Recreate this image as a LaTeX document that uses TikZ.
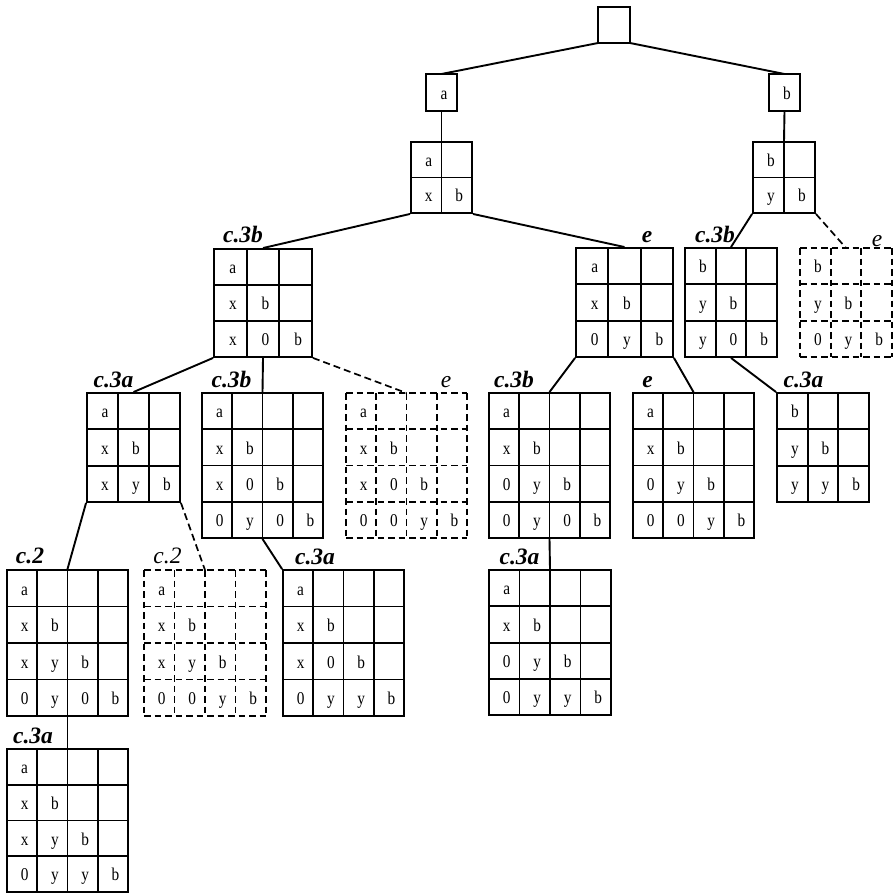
\documentclass[tikz,border=0pt]{standalone}
\usepackage{fontspec}
\setmainfont{Liberation Serif}
\newfontfamily\cellfam[FakeStretch=0.85]{Liberation Serif}
\usetikzlibrary{matrix,calc}
\tikzset{
  cellbox/.style={draw, line width=1.9pt, inner sep=0pt, outer sep=0pt,
    text height=13.5pt, text depth=0pt,
    font=\cellfam\fontsize{18}{18}\selectfont,
    execute at begin node={\hspace*{5pt}}},
  celltext/.style={inner sep=0pt, outer sep=0pt,
    text height=13.5pt, text depth=0pt,
    font=\cellfam\fontsize{18}{18}\selectfont,
    execute at begin node={\hspace*{5pt}}},
  cellgrid/.style 2 args={matrix of nodes, nodes in empty cells,
    inner sep=0pt, outer sep=0pt, column sep=-1.9pt, row sep=-1.9pt,
    anchor=north west,
    nodes={cellbox, minimum width=#1, minimum height=#2}},
  dgrid/.style 2 args={matrix of nodes, nodes in empty cells,
    inner sep=0pt, outer sep=0pt, column sep=0pt, row sep=0pt,
    anchor=north west,
    nodes={celltext, minimum width=#1, minimum height=#2}},
  dline/.style={line width=1.8pt, dash pattern=on 6.5pt off 4pt},
  conn/.style={line width=1.9pt},
  dconn/.style={line width=1.7pt, dash pattern=on 7pt off 4pt},
  lab/.style={font=\fontsize{23.5}{23.5}\selectfont\bfseries\itshape, inner sep=0pt, anchor=base},
  labl/.style={font=\fontsize{23.5}{23.5}\selectfont\itshape, inner sep=0pt, anchor=base},
}
\newcommand\dgridlines[3]{%
  \foreach \i in {0,...,#2}{\draw[dline] ($(#1.north west)!\i/#2!(#1.north east)$) -- ($(#1.south west)!\i/#2!(#1.south east)$);}
  \foreach \j in {0,...,#3}{\draw[dline] ($(#1.north west)!\j/#3!(#1.south west)$) -- ($(#1.north east)!\j/#3!(#1.south east)$);}
}
\begin{document}
\begin{tikzpicture}[x=1pt,y=-1pt]
\useasboundingbox (0,0) rectangle (893,893);

% level 0 and 1
\node[cellbox, minimum width=32pt, minimum height=36pt, anchor=north west] (root) at (598,7) {};
\node[cellbox, minimum width=31pt, minimum height=37pt, anchor=north west] (na) at (426,74) {a};
\node[cellbox, minimum width=31pt, minimum height=37pt, anchor=north west] (nb) at (769,74) {b};

% level 2
\matrix (g2a) [cellgrid={30.5pt}{35.5pt}] at (410.05,141.05) {
a & \\
x & b \\
};
\matrix (g2b) [cellgrid={31pt}{35.5pt}] at (752.05,141.05) {
b & \\
y & b \\
};

% level 3
\matrix (L) [cellgrid={32.67pt}{36pt}] at (213.05,248.05) {
a & & \\
x & b & \\
x & 0 & b \\
};
\matrix (E) [cellgrid={32.33pt}{36.33pt}] at (575.05,247.05) {
a & & \\
x & b & \\
0 & y & b \\
};
\matrix (R) [cellgrid={30.67pt}{36.33pt}] at (684.05,247.05) {
b & & \\
y & b & \\
y & 0 & b \\
};
\matrix (RD) [dgrid={30.67pt}{36.33pt}] at (800,248) {
b & & \\
y & b & \\
0 & y & b \\
};
\dgridlines{RD}{3}{3}

% level 4
\matrix (L3a) [cellgrid={31pt}{36.33pt}] at (86.05,392.05) {
a & & \\
x & b & \\
x & y & b \\
};
\matrix (L3b) [cellgrid={30.25pt}{36.25pt}] at (201.05,392.05) {
a & & & \\
x & b & & \\
x & 0 & b & \\
0 & y & 0 & b \\
};
\matrix (L3e) [dgrid={30.25pt}{36.25pt}] at (346,393) {
a & & & \\
x & b & & \\
x & 0 & b & \\
0 & 0 & y & b \\
};
\dgridlines{L3e}{4}{4}
\matrix (E3b) [cellgrid={30.25pt}{36.25pt}] at (488.05,392.05) {
a & & & \\
x & b & & \\
0 & y & b & \\
0 & y & 0 & b \\
};
\matrix (E3e) [cellgrid={30.25pt}{36.25pt}] at (632.05,392.05) {
a & & & \\
x & b & & \\
0 & y & b & \\
0 & 0 & y & b \\
};
\matrix (R3a) [cellgrid={30.67pt}{36.33pt}] at (776.05,392.05) {
b & & \\
y & b & \\
y & y & b \\
};

% level 5
\matrix (C2) [cellgrid={30.25pt}{36.5pt}] at (6.05,569.05) {
a & & & \\
x & b & & \\
x & y & b & \\
0 & y & 0 & b \\
};
\matrix (C2d) [dgrid={30.5pt}{36.5pt}] at (144,570) {
a & & & \\
x & b & & \\
x & y & b & \\
0 & 0 & y & b \\
};
\dgridlines{C2d}{4}{4}
\matrix (M3a) [cellgrid={30.25pt}{36.5pt}] at (282.05,569.05) {
a & & & \\
x & b & & \\
x & 0 & b & \\
0 & y & y & b \\
};
\matrix (E4a) [cellgrid={30.5pt}{36.3pt}] at (488.05,569.05) {
a & & & \\
x & b & & \\
0 & y & b & \\
0 & y & y & b \\
};

% level 6
\matrix (B5) [cellgrid={30.25pt}{35.75pt}] at (6.05,748.05) {
a & & & \\
x & b & & \\
x & y & b & \\
0 & y & y & b \\
};

% connectors
\draw[conn] (root.south west) -- (na.north);
\draw[conn] (root.south east) -- (nb.north);
\draw[conn] (na.south) -- (g2a.north);
\draw[conn] (nb.south) -- (g2b.north);
\draw[conn] (g2a.south west) -- (L.north);
\draw[conn] (g2a.south east) -- (E.north);
\draw[conn] (g2b.south west) -- (R.north);
\draw[dconn] (g2b.south east) -- (RD.north);
\draw[conn] (L.south west) -- (L3a.north);
\draw[conn] (L.south) -- (L3b.north);
\draw[dconn] (L.south east) -- (L3e.north);
\draw[conn] (E.south west) -- (E3b.north);
\draw[conn] (E.south east) -- (E3e.north);
\draw[conn] (R.south) -- (R3a.north west);
\draw[conn] (L3a.south west) -- (C2.north);
\draw[dconn] (L3a.south east) -- (C2d.north);
\draw[conn] (L3b.south) -- (M3a.north west);
\draw[conn] (E3b.south) -- (E4a.north);
\draw[conn] (C2.south) -- (B5.north);

% labels
\node[lab] (tL) at (243,242) {c.3b};
\node[lab] (tE) at (647,242) {e};
\node[lab] (tR) at (715,242) {c.3b};
\node[labl] (tRD) at (877,247) {e};
\node[lab] (tL3a) at (113.5,387) {c.3a};
\node[lab] (tL3b) at (231.5,387) {c.3b};
\node[labl] (tL3e) at (446,387) {e};
\node[lab] (tE3b) at (514,387) {c.3b};
\node[lab] (tE3e) at (647.5,387) {e};
\node[lab] (tR3a) at (803.5,387) {c.3a};
\node[lab] (tC2) at (30,563) {c.2};
\node[labl] (tC2d) at (167.5,563) {c.2};
\node[lab] (tM3a) at (315,564) {c.3a};
\node[lab] (tE4a) at (519.5,564) {c.3a};
\node[lab] (tB5) at (33,743) {c.3a};
\end{tikzpicture}
\end{document}
